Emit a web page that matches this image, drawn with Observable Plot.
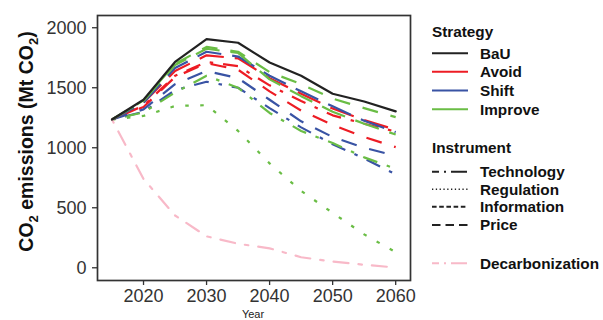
<!DOCTYPE html>
<html>
<head>
<meta charset="utf-8">
<script src="https://cdn.jsdelivr.net/npm/d3@7"></script>
<script src="https://cdn.jsdelivr.net/npm/@observablehq/plot@0.6"></script>
<style>
  html, body { margin: 0; padding: 0; background: #fff; overflow: hidden; }
  #chart { position: relative; width: 603px; height: 320px; font-family: "Liberation Sans", Arial, sans-serif; }
  #chart > svg { position: absolute; top: 0; }
</style>
</head>
<body>
<div id="chart"></div>
<script>
// Projected transport CO2 emissions (Mt CO2) by strategy and policy instrument
const years = [2015, 2020, 2025, 2030, 2035, 2040, 2045, 2050, 2055, 2060];

const strategies = ["BaU", "Avoid", "Shift", "Improve"];
const strategyColors = ["#222222", "#ED1C24", "#3953A4", "#6ABD45"];
const instruments = ["Technology", "Regulation", "Information", "Price"];
const decarbonizationLabel = "Decarbonization";
const decarbonizationColor = "#F8B9C8";

const xTicks = [2020, 2030, 2040, 2050, 2060];
const yTicks = [0, 500, 1000, 1500, 2000];

// Business as usual
const bau = [1235, 1400, 1715, 1905, 1875, 1710, 1600, 1450, 1385, 1303];
// Decarbonization pathway
const decarbonization = [1235, 740, 436, 262, 200, 162, 88, 52, 25, 2];

// Avoid
const avoidTechnology  = [1235, 1350, 1600, 1715, 1680, 1520, 1390, 1270, 1200, 1135];
const avoidInformation = [1235, 1340, 1590, 1705, 1650, 1470, 1310, 1190, 1090, 1005];
const avoidPrice       = [1235, 1375, 1640, 1770, 1745, 1580, 1450, 1327, 1230, 1150];
// Shift
const shiftTechnology  = [1235, 1300, 1480, 1550, 1500, 1330, 1170, 1030, 910, 778];
const shiftInformation = [1235, 1320, 1530, 1640, 1580, 1400, 1220, 1090, 1000, 933];
const shiftPrice       = [1235, 1375, 1665, 1800, 1760, 1600, 1470, 1345, 1225, 1130];
// Improve
const improveTechnology  = [1235, 1295, 1460, 1600, 1500, 1290, 1140, 1040, 920, 825];
const improveRegulation  = [1235, 1265, 1348, 1355, 1140, 870, 640, 458, 278, 130];
const improveInformation = [1235, 1395, 1700, 1840, 1800, 1630, 1530, 1410, 1330, 1255];
const improvePrice       = [1235, 1390, 1690, 1825, 1790, 1570, 1430, 1300, 1200, 1110];

const scenarios = [
  ["Avoid", "Technology", avoidTechnology],
  ["Avoid", "Information", avoidInformation],
  ["Avoid", "Price", avoidPrice],
  ["Shift", "Technology", shiftTechnology],
  ["Shift", "Information", shiftInformation],
  ["Shift", "Price", shiftPrice],
  ["Improve", "Technology", improveTechnology],
  ["Improve", "Regulation", improveRegulation],
  ["Improve", "Information", improveInformation],
  ["Improve", "Price", improvePrice]
];

const rows = scenarios.flatMap(([strategy, instrument, values]) =>
  years.map((year, i) => ({year, value: values[i], strategy, instrument, series: strategy + "-" + instrument})));
const bauRows = years.map((year, i) => ({year, value: bau[i], strategy: "BaU"}));
const decarbRows = years.map((year, i) => ({year, value: decarbonization[i]}));

// dash patterns for the lines in the panel
const panelDash = {
  Technology: "3.5,10,15,10",
  Regulation: "3.5,11.5",
  Information: "16,13",
  Price: "25,11"
};
// smaller dash patterns for the legend keys
const keyDash = {
  Technology: "7,5,2,5,16",
  Regulation: "1.3,2.5",
  Information: "4.6,2.6",
  Price: "8.5,5"
};

const lineMarks = instruments.map(inst =>
  Plot.line(rows.filter(d => d.instrument === inst), {
    x: "year", y: "value", z: "series", stroke: "strategy",
    strokeWidth: 2.2, strokeDasharray: panelDash[inst], strokeLinecap: "butt"
  }));

const plot = Plot.plot({
  width: 425,
  height: 320,
  marginLeft: 97,
  marginRight: 15,
  marginTop: 15,
  marginBottom: 40,
  style: {fontFamily: "Liberation Sans, Arial, sans-serif", fontSize: "18px", color: "#333", background: "transparent", overflow: "visible"},
  x: {domain: [2012.7, 2062.35]},
  y: {domain: [-106, 2102]},
  color: {domain: strategies, range: strategyColors},
  marks: [
    Plot.axisY({ticks: yTicks, tickFormat: "d", tickSize: 5, tickPadding: 6, label: null, fontSize: 18, strokeWidth: 1.3}),
    Plot.axisX({ticks: xTicks, tickFormat: "d", tickSize: 5, tickPadding: 4, label: null, fontSize: 18, strokeWidth: 1.3}),
    ...lineMarks,
    Plot.line(decarbRows, {x: "year", y: "value", stroke: decarbonizationColor, strokeWidth: 2.2, strokeDasharray: panelDash.Technology}),
    Plot.line(bauRows, {x: "year", y: "value", stroke: "strategy", strokeWidth: 2.2}),
    Plot.frame({stroke: "#333", strokeWidth: 1.7})
  ]
});
plot.style.left = "0px";

const svg = d3.select(plot);
// y axis title with subscripts
const yTitle = svg.append("text")
  .attr("transform", "translate(32.5,141.5) rotate(-90)")
  .attr("text-anchor", "middle")
  .attr("font-weight", "bold")
  .attr("font-size", 19.5)
  .attr("fill", "#111");
yTitle.append("tspan").text("CO");
yTitle.append("tspan").attr("font-size", 13).attr("dy", 5).text("2");
yTitle.append("tspan").attr("dy", -5).text(" emissions (Mt CO");
yTitle.append("tspan").attr("font-size", 13).attr("dy", 5).text("2");
yTitle.append("tspan").attr("dy", -5).text(")");

svg.append("text")
  .attr("x", 253).attr("y", 317.6)
  .attr("text-anchor", "middle")
  .attr("font-size", 11)
  .attr("fill", "#222")
  .text("Year");

document.getElementById("chart").appendChild(plot);

// legend on the right
const legend = d3.select("#chart").append("svg")
  .attr("width", 178).attr("height", 320)
  .style("left", "425px")
  .attr("font-family", "Liberation Sans, Arial, sans-serif")
  .attr("font-weight", "bold")
  .attr("font-size", 15.3)
  .attr("fill", "#111");

const kx0 = 7, kx1 = 43, lx = 55;
legend.append("text").attr("x", kx0).attr("y", 37).text("Strategy");
const sRows = [53.3, 71.7, 90.5, 109.3];
strategies.forEach((s, i) => {
  legend.append("line").attr("x1", kx0).attr("x2", kx1).attr("y1", sRows[i]).attr("y2", sRows[i])
    .attr("stroke", strategyColors[i]).attr("stroke-width", 2);
  legend.append("text").attr("x", lx).attr("y", sRows[i] + 5.3).text(s);
});

legend.append("text").attr("x", kx0).attr("y", 153).text("Instrument");
const iRows = [171.7, 189.3, 206.7, 225];
instruments.forEach((s, i) => {
  legend.append("line").attr("x1", kx0).attr("x2", kx1).attr("y1", iRows[i]).attr("y2", iRows[i])
    .attr("stroke", "#222").attr("stroke-width", s === "Regulation" ? 1.4 : 2)
    .attr("stroke-dasharray", keyDash[s]);
  legend.append("text").attr("x", lx).attr("y", iRows[i] + 5.3).text(s);
});

legend.append("line").attr("x1", kx0).attr("x2", kx1).attr("y1", 263.3).attr("y2", 263.3)
  .attr("stroke", decarbonizationColor).attr("stroke-width", 2).attr("stroke-dasharray", keyDash.Technology);
legend.append("text").attr("x", lx).attr("y", 268.6).text(decarbonizationLabel);
</script>
</body>
</html>
